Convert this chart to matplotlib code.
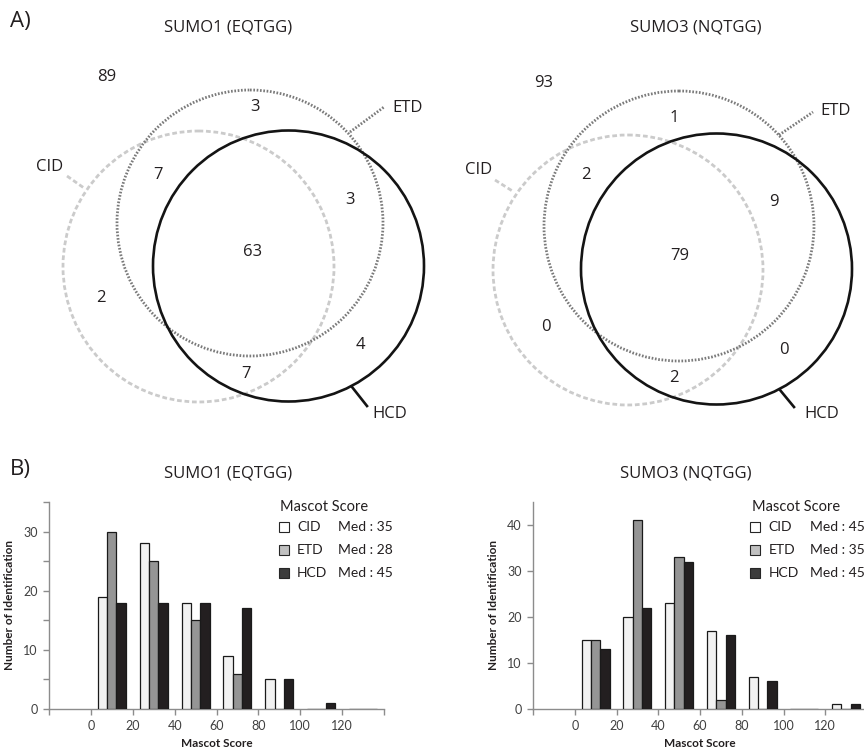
#!/usr/bin/env python
# -*- coding: utf-8 -*-

"""
Venn diagrams and Mascot score histograms for SUMO1 / SUMO3
identifications with CID, ETD and HCD fragmentation.
"""

import numpy as np
import matplotlib as mpl
mpl.use('Agg')
import matplotlib.pyplot as plt
from matplotlib.patches import Circle

# ---------------------------------------------------------
# data
# ---------------------------------------------------------
methods = ['CID', 'ETD', 'HCD']

# venn counts: outside, ETD only, CID+ETD, ETD+HCD, all, CID only,
# HCD only, CID+HCD
venn_sumo1 = [89, 3, 7, 3, 63, 2, 4, 7]
venn_sumo3 = [93, 1, 2, 9, 79, 0, 0, 2]

# histogram bins (lower edge of each 20 wide bin)
bin_start = [0, 20, 40, 60, 80, 100, 120]
sumo1_cid = [19, 28, 18, 9, 5, 0, 0]
sumo1_etd = [30, 25, 15, 6, 0, 0, 0]
sumo1_hcd = [18, 18, 18, 17, 5, 1, 0]
sumo3_cid = [15, 20, 23, 17, 7, 0, 1]
sumo3_etd = [15, 41, 33, 2, 0, 0, 0]
sumo3_hcd = [13, 22, 32, 16, 6, 0, 1]

med_sumo1 = [35, 28, 45]
med_sumo3 = [45, 35, 45]

tick_labels = ['', '0', '20', '40', '60', '80', '100', '120', '']

# ---------------------------------------------------------
# styles
# ---------------------------------------------------------
VENN_FONT = 'Open Sans'
BAR_FONT = 'Lato'
TXT = '#231f20'

circle_styles = {
    'CID': dict(color='#cbcbcb', lw=2.0, ls=(0, (1.7, 1.0))),
    'ETD': dict(color='#7a7a7a', lw=2.0, ls=(0, (0.6, 0.6))),
    'HCD': dict(color='#141414', lw=1.9, ls='-'),
}
bar_faces = ['#f2f2f2', '#959595', '#231f20']
leg_faces = ['#ffffff', '#c0c0c0', '#3c3c3c']
axis_grey = '#8c8c8c'


def draw_venn(ax, x0, counts, centers, label_pos, names_pos, leaders):
    """
    draws one three set venn diagram in pixel coordinates
    """
    for name, (cx, cy, r) in zip(methods, centers):
        st = circle_styles[name]
        ax.add_patch(Circle((x0 + cx, cy), r, fill=False, color=st['color'],
                            lw=st['lw'], ls=st['ls']))
    for val, (px, py) in zip(counts, label_pos):
        ax.text(x0 + px, py, str(val), ha='center', va='center',
                fontsize=12, family=VENN_FONT, color=TXT)
    for name, (px, py), ((ax1, ay1), (ax2, ay2)) in zip(methods, names_pos,
                                                        leaders):
        st = circle_styles[name]
        ax.plot([x0 + ax1, x0 + ax2], [ay1, ay2], color=st['color'],
                lw=st['lw'], ls=st['ls'])
        ax.text(x0 + px, py, name, ha='center', va='center', fontsize=12,
                family=VENN_FONT, color=TXT)


def draw_hist(ax, cid, etd, hcd, medians, ymax, yticks, ylabels, leg_x):
    """
    draws the grouped histogram of mascot scores
    """
    x = np.array(bin_start) + 10
    w = 4.45
    for k, (vals, fc) in enumerate(zip([cid, etd, hcd], bar_faces)):
        ax.bar(x + (k - 1) * w, vals, width=w, color=fc, edgecolor='#1a1a1a',
               lw=0.9, zorder=3)

    ax.set_xlim(-20, 140)
    ax.set_ylim(0, ymax)
    ax.set_xticks(np.arange(-20, 141, 20))
    ax.set_xticklabels(tick_labels)
    ax.set_yticks(yticks)
    ax.set_yticklabels(ylabels)
    for s in ['top', 'right']:
        ax.spines[s].set_visible(False)
    for s in ['left', 'bottom']:
        ax.spines[s].set_color(axis_grey)
        ax.spines[s].set_linewidth(1.0)
    ax.tick_params(colors=axis_grey, labelcolor='#404040', labelsize=9,
                   length=4, width=1.0, pad=4)
    for lab in ax.get_xticklabels() + ax.get_yticklabels():
        lab.set_family(BAR_FONT)

    ax.set_xlabel('Mascot Score', fontsize=8.5, fontweight='bold',
                  family=BAR_FONT, color=TXT, labelpad=4)
    ax.set_ylabel('Number of Identification', fontsize=8.5,
                  fontweight='bold', family=BAR_FONT, color=TXT,
                  labelpad=6)

    # legend drawn by hand in axes fraction
    ax.text(leg_x - 0.01, 0.975, 'Mascot Score', transform=ax.transAxes,
            fontsize=10.5, family=BAR_FONT, color=TXT, va='center',
            ha='left', clip_on=False)
    for k, (name, med) in enumerate(zip(methods, medians)):
        yy = 0.88 - k * 0.111
        ax.plot([leg_x], [yy], 's', ms=6.5, mfc=leg_faces[k], mec='#262626',
                mew=0.8, transform=ax.transAxes, clip_on=False)
        ax.text(leg_x + 0.04, yy, name, transform=ax.transAxes, fontsize=10,
                family=BAR_FONT, color=TXT, va='center', ha='left')
        ax.text(leg_x + 0.163, yy, 'Med : %d' % med, transform=ax.transAxes,
                fontsize=10, family=BAR_FONT, color=TXT, va='center',
                ha='left', clip_on=False)


def main():
    fig = plt.figure(figsize=(8.64, 7.49), dpi=100)

    # overlay in pixel coordinates for the venn part and panel titles
    ov = fig.add_axes([0, 0, 1, 1])
    ov.set_xlim(0, 864)
    ov.set_ylim(749, 0)
    ov.axis('off')

    left_centers = [(198.5, 266.5, 135.5), (250, 223, 133),
                    (288.5, 266, 135.5)]
    left_pos = [(107, 77), (255, 107), (158, 175), (350, 200), (253, 252),
                (101, 298), (360, 345), (246, 374)]
    left_names = [(50, 167), (408, 108), (390, 414)]
    left_lead = [((67, 176), (84, 188)), ((350, 132), (384, 107)),
                 ((352, 387), (367, 406))]

    right_centers = [(196, 270, 135), (247, 226, 135), (284.5, 269, 135.5)]
    right_pos = [(112, 83), (242, 118), (154, 175), (342, 202), (248, 256),
                 (114, 327), (352, 350), (242, 378)]
    right_names = [(47, 170), (404, 111), (390, 414)]
    right_lead = [((63, 180), (82, 192)), ((347, 135), (381, 112)),
                  ((348, 390), (362, 407))]

    draw_venn(ov, 0, venn_sumo1, left_centers, left_pos, left_names,
              left_lead)
    draw_venn(ov, 432, venn_sumo3, right_centers, right_pos, right_names,
              right_lead)

    ov.text(20, 22, 'A)', fontsize=16, family=VENN_FONT, color=TXT,
            ha='center', va='center')
    ov.text(228, 28, 'SUMO1 (EQTGG)', fontsize=12, family=VENN_FONT,
            color=TXT, ha='center', va='center')
    ov.text(696, 28, 'SUMO3 (NQTGG)', fontsize=12, family=VENN_FONT,
            color=TXT, ha='center', va='center')
    ov.text(20, 470, 'B)', fontsize=16, family=VENN_FONT, color=TXT,
            ha='center', va='center')
    ov.text(228, 474, 'SUMO1 (EQTGG)', fontsize=12, family=VENN_FONT,
            color=TXT, ha='center', va='center')
    ov.text(686, 474, 'SUMO3 (NQTGG)', fontsize=12, family=VENN_FONT,
            color=TXT, ha='center', va='center')

    # histograms
    ax1 = fig.add_axes([49 / 864, 40 / 749, 335 / 864, 207 / 749])
    draw_hist(ax1, sumo1_cid, sumo1_etd, sumo1_hcd, med_sumo1, 35,
              np.arange(0, 36, 5), ['0', '', '10', '', '20', '', '30', ''],
              0.70)

    ax2 = fig.add_axes([533 / 864, 40 / 749, 334 / 864, 207 / 749])
    draw_hist(ax2, sumo3_cid, sumo3_etd, sumo3_hcd, med_sumo3, 45,
              np.arange(0, 41, 10), ['0', '10', '20', '30', '40'], 0.665)

    fig.savefig('out.png', dpi=100)
    plt.close(fig)


if __name__ == "__main__":
    main()
